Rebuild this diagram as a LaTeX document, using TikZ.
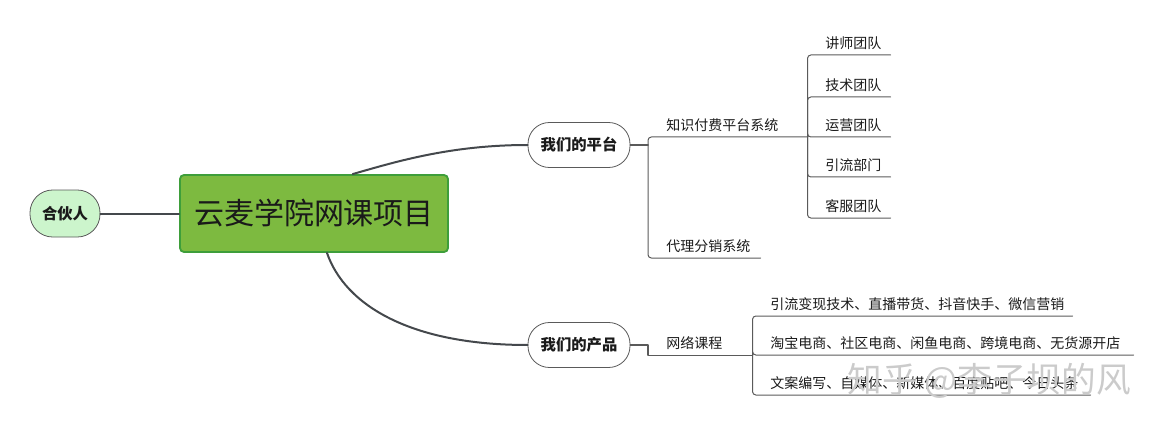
\documentclass[tikz,border=0pt]{standalone}
\usepackage{fontspec}
\usepackage{xcolor}
\usepackage{tikz}
\usetikzlibrary{positioning}
\newfontfamily\cjk{Noto Sans CJK SC}
\definecolor{mmHubFill}{HTML}{7DBA40}
\definecolor{mmHubLine}{HTML}{3E9E3A}
\definecolor{mmSoft}{HTML}{CCF5CC}
\definecolor{mmInk}{HTML}{1A1A1A}
\definecolor{mmCurve}{HTML}{44484C}
\definecolor{mmRule}{HTML}{5A5A5A}
\definecolor{mmMark}{HTML}{CBCBCB}
\tikzset{
  mm diagram/.style={x=0.75pt, y=-0.75pt, text=mmInk,
    font=\cjk\fontsize{10.5}{12}\selectfont,
    line cap=round, line join=round},
  mm hub/.style={draw=mmHubLine, fill=mmHubFill, line width=1.4pt,
    rounded corners=3pt, minimum width=201pt, minimum height=57.75pt,
    font=\cjk\fontsize{22.5}{26}\selectfont},
  mm pill/.style={draw=mmRule, fill=white, line width=0.6pt,
    rounded corners=16pt, minimum width=76.5pt, minimum height=33.75pt,
    font=\cjk\bfseries\fontsize{11.5}{13}\selectfont},
  mm soft pill/.style={mm pill, fill=mmSoft, minimum width=52.5pt,
    minimum height=35.25pt, rounded corners=17pt},
  mm topic/.style={anchor=south west, inner xsep=13.5pt, inner ysep=3.5pt},
  mm curve/.style={draw=mmCurve, line width=1.5pt},
  mm stem/.style={draw=mmRule, line width=1.2pt},
  mm rule/.style={draw=mmRule, line width=0.75pt, rounded corners=2.5pt},
  mm mark/.style={text=mmMark, font=\cjk\fontsize{26}{29}\selectfont}
}
\begin{document}
\begin{tikzpicture}[mm diagram]
\useasboundingbox (0,0) rectangle (1158,428);
\node[mm hub] (hub) at (314,213.5) {云麦学院网课项目};
\node[mm soft pill] (partner) at (65,213.5) {合伙人};
\node[mm pill] (platform) at (579,145) {我们的平台};
\node[mm pill] (product) at (579,345) {我们的产品};
\draw[mm curve] (partner.east) -- (hub.west);
\draw[mm curve] ([xshift=29pt]hub.north) .. controls (395,162) and (450,145) .. (platform.west);
\draw[mm curve] ([xshift=9.75pt]hub.south) .. controls (345,305) and (410,345) .. (product.west);
\coordinate (platform fork) at (648,145);
\node[mm topic] (knowledge) at (648,137) {\makebox[92.25pt][l]{知识付费平台系统}};
\node[mm topic] (agent) at (648,258) {\makebox[57pt][l]{代理分销系统}};
\draw[mm stem] (platform.east) -- (platform fork);
\draw[mm rule] (platform fork) |- (knowledge.south east);
\draw[mm rule] (platform fork) |- (agent.south east);
\foreach \y/\name/\txt in {55/lecturer/讲师团队,97/tech/技术团队,137/ops/运营团队,177/traffic/引流部门,218/service/客服团队}{
  \node[mm topic] (\name) at (807,\y) {\makebox[35.25pt][l]{\txt}};
  \draw[mm rule] (knowledge.south east) |- (\name.south east);
}
\node[mm topic] (course) at (648,355) {\makebox[51pt][l]{网络课程}};
\draw[mm stem] (product.east) -| (course.south west);
\draw[mm rule] (course.south west) -- (course.south east);
\foreach \y/\name/\w/\txt in {316/skills/213pt/引流变现技术、直播带货、抖音快手、微信营销,355/shops/258.75pt/淘宝电商、社区电商、闲鱼电商、跨境电商、无货源开店,395/media/226.5pt/文案编写、自媒体、新媒体、百度贴吧、今日头条}{
  \node[mm topic] (\name) at (752,\y) {\makebox[\w][l]{\txt}};
  \draw[mm rule] (course.south east) |- (\name.south east);
}
\node[mm mark, anchor=west] (mark) at (843,381) {知乎 @李子坝的风};
\end{tikzpicture}
\end{document}
